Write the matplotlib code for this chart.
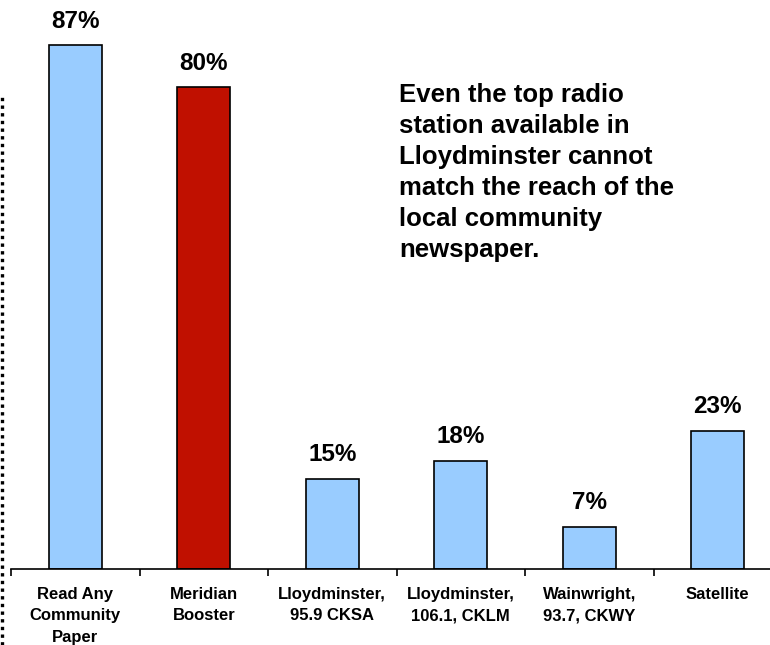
import numpy as np
import matplotlib.pyplot as plt

categories = [
    "Read Any\nCommunity\nPaper",
    "Meridian\nBooster",
    "Lloydminster,\n95.9 CKSA",
    "Lloydminster,\n106.1, CKLM",
    "Wainwright,\n93.7, CKWY",
    "Satellite",
]
reach = [87, 80, 15, 18, 7, 23]
bar_colors = ["#99CCFF", "#C01000", "#99CCFF", "#99CCFF", "#99CCFF", "#99CCFF"]
note = ("Even the top radio\nstation available in\nLloydminster cannot\n"
        "match the reach of the\nlocal community\nnewspaper.")

plt.rcParams["font.family"] = ["Liberation Sans", "DejaVu Sans"]
plt.rcParams["font.weight"] = "bold"

fig = plt.figure(figsize=(7.7, 6.45), dpi=100)
# axes runs a little past the right edge, like the original slide
ax = fig.add_axes([11 / 770, 76 / 645, 771 / 770, 569 / 645])

x = np.arange(len(reach))
bars = ax.bar(x, reach, width=0.41, color=bar_colors, edgecolor="black", linewidth=1.2, zorder=2)

for b, v in zip(bars, reach):
    ax.annotate(f"{v}%", (b.get_x() + b.get_width() / 2, v), xytext=(0, 9),
                textcoords="offset points", ha="center", va="bottom",
                fontsize=17.5, fontweight="bold")

ax.set_xlim(-0.5, 5.5)
ax.set_ylim(0, 569 / 6.02)

ax.set_xticks(np.arange(-0.5, 6.0, 1.0))
ax.set_xticklabels([])
ax.tick_params(axis="x", which="major", direction="out", length=5, width=1.2)
ax.set_xticks(x, minor=True)
ax.set_xticklabels(categories, minor=True, fontsize=12, fontweight="bold", linespacing=1.52)
ax.tick_params(axis="x", which="minor", length=0, pad=13)
ax.set_yticks([])

for side in ["top", "right", "left"]:
    ax.spines[side].set_visible(False)
ax.spines["bottom"].set_linewidth(1.2)

fig.text(399 / 770, 1 - 83 / 645, note, ha="left", va="top", fontsize=18.5,
         fontweight="bold", linespacing=1.37)

# dotted frame edge at far left
fig.add_artist(plt.Line2D([1.5 / 770, 1.5 / 770], [0, 1 - 95 / 645], color="black",
                          linestyle=(0, (1, 1.3)), linewidth=2.4))

fig.savefig("out.png", dpi=100)
